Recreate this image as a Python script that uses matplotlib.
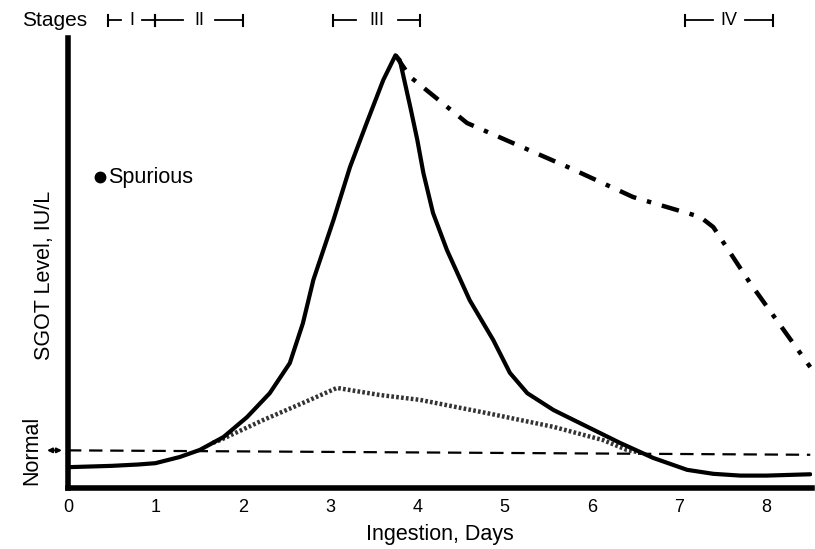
import matplotlib
matplotlib.use("Agg")
import matplotlib.pyplot as plt

plt.rcParams['font.family'] = ['Liberation Sans', 'DejaVu Sans']

# Main SGOT curve (solid)
solid_x = [0.0, 0.5, 0.8, 1.0, 1.28, 1.51, 1.78, 2.05, 2.31, 2.54, 2.69, 2.81, 3.04, 3.23, 3.42, 3.61, 3.75,
           3.80, 3.92, 4.00, 4.07, 4.18, 4.34, 4.60, 4.87, 5.06, 5.26, 5.56, 5.95, 6.32, 6.70,
           7.09, 7.39, 7.7, 8.0, 8.5]
solid_y = [4.7, 5.0, 5.3, 5.6, 7.0, 8.6, 11.5, 16.0, 21.4, 28.2, 37.2, 47.0, 60.5, 72.5, 82.4, 92.1, 97.7,
           96.6, 86.0, 78.6, 71.1, 62.1, 53.7, 42.4, 33.4, 26.0, 21.4, 17.6, 13.8, 10.2, 6.8,
           4.1, 3.2, 2.8, 2.8, 3.1]

# Prolonged elevation (dash-dot)
dashdot_x = [3.75, 3.92, 4.57, 5.72, 6.47, 7.24, 7.39, 7.81, 8.5]
dashdot_y = [97.7, 92.8, 82.4, 72.5, 65.7, 61.2, 58.9, 46.3, 27.3]

# Mild elevation (dotted)
dotted_x = [1.66, 1.74, 2.23, 2.69, 3.08, 3.57, 4.03, 4.80, 5.56, 6.13, 6.40, 6.55]
dotted_y = [10.2, 10.8, 15.3, 19.2, 22.6, 21.0, 19.9, 16.9, 13.8, 10.8, 8.6, 8.0]

# Upper limit of normal (dashed)
normal_x = [0.0, 8.5]
normal_y = [8.5, 7.5]

# Spurious point
spur_x = [0.37]
spur_y = [70.2]

# Stages
stage_labels = ['I', 'II', 'III', 'IV']
stage_start = [0.46, 1.0, 3.04, 7.07]
stage_end = [1.0, 2.0, 4.03, 8.07]

xticks = [0, 1, 2, 3, 4, 5, 6, 7, 8]

fig = plt.figure(figsize=(8.15, 5.49), dpi=100)
ax = fig.add_axes([68/815, (549-488)/549, (812-68)/815, (488-38)/549])
ax.set_xlim(0, 8.52)
ax.set_ylim(0, 101.6)

ax.plot(normal_x, normal_y, color='black', lw=1.6, linestyle=(0, (6, 3.5)), zorder=2)
ax.plot(dotted_x, dotted_y, color='#333333', lw=3.2, linestyle=(0, (0.6, 0.5)), zorder=3)
ax.plot(dashdot_x, dashdot_y, color='black', lw=3.2, linestyle=(0, (4, 2.5, 1, 2.5)), zorder=3)
ax.plot(solid_x, solid_y, color='black', lw=3.0, solid_capstyle='round',
        solid_joinstyle='round', zorder=4)
ax.plot(spur_x, spur_y, 'o', color='black', markersize=7.5, zorder=5)
ax.text(spur_x[0] + 0.09, spur_y[0], 'Spurious', fontsize=15.5, va='center', ha='left')

for s in ['top', 'right']:
    ax.spines[s].set_visible(False)
for s in ['left', 'bottom']:
    ax.spines[s].set_linewidth(4)
ax.set_yticks([])
ax.set_xticks(xticks)
ax.tick_params(axis='x', length=0, pad=8, labelsize=13)
ax.set_xlabel('Ingestion, Days', fontsize=15.5, labelpad=6)

# Y labels
fig.text(45/815, 1 - 275/549, 'SGOT Level, IU/L', rotation=90, fontsize=15.5,
         ha='center', va='center')
fig.text(32/815, 1 - 450/549, 'Normal', rotation=90, fontsize=15.5,
         ha='center', va='center')
ax.annotate('', xy=(-0.07, normal_y[0]), xytext=(-0.24, normal_y[0]),
            arrowprops=dict(arrowstyle='<|-|>', color='black', lw=1.4,
                            mutation_scale=7, shrinkA=0, shrinkB=0),
            annotation_clip=False)

# Stages bar
yb = 105.6
tick_h = 1.3
ax.text(-0.15, yb, 'Stages', fontsize=15, ha='center', va='center',
        clip_on=False)
for lab, a, b in zip(stage_labels, stage_start, stage_end):
    mid = (a + b) / 2
    gap = 0.06 + 0.06 * len(lab)
    ax.plot([a, mid - gap], [yb, yb], color='black', lw=1.3, clip_on=False)
    ax.plot([mid + gap, b], [yb, yb], color='black', lw=1.3, clip_on=False)
    ax.plot([a, a], [yb - tick_h, yb + tick_h], color='black', lw=1.5, clip_on=False)
    ax.plot([b, b], [yb - tick_h, yb + tick_h], color='black', lw=1.5, clip_on=False)
    ax.text(mid, yb, lab, fontsize=13, ha='center', va='center', clip_on=False)

fig.savefig('out.png', dpi=100)
